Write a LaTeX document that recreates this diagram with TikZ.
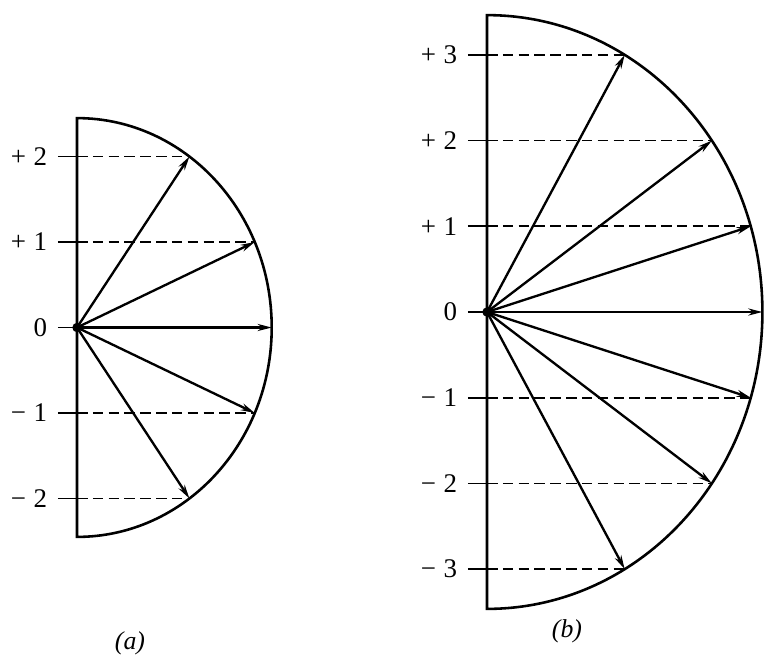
\documentclass[tikz,border=0pt]{standalone}
\usepackage{fontspec}
\setmainfont{Liberation Serif}
\usetikzlibrary{arrows.meta}
\begin{document}
\begin{tikzpicture}[x=0.03cm,y=-0.03cm,>={Stealth[length=12pt,width=6pt]},
  rim/.style={line width=2.2pt},
  vec/.style={->,line width=2pt},
  proj/.style={line width=1.5pt,dash pattern=on 9pt off 4.5pt},
  tickmark/.style={line width=1.5pt},
  lbl/.style={left=9pt,inner sep=0pt,font=\fontsize{23}{26}\selectfont},
  captext/.style={font=\fontsize{22}{26}\selectfont\itshape}]
\useasboundingbox (0,0) rectangle (765,658);

% (a) l = 2
\begin{scope}[shift={(77,327.5)},x=2.385cm,y=2.565cm]
\coordinate (oa) at (0,0);
\draw[rim] (0,2.449) arc[start angle=90,end angle=-90,radius=2.449] -- cycle;
\foreach \m/\t in {2/{+\;2},1/{+\;1},0/0,-1/{−\;1},-2/{−\;2}}{
  \pgfmathsetmacro\w{sqrt(6-\m*\m)}
  \coordinate (a\m) at (\w,\m);
  \coordinate (za\m) at (0,\m);
  \draw[tickmark] (-0.24,\m) -- (za\m);
  \node[lbl] (la\m) at (-0.24,\m) {\t};
  \ifnum\m=0\else\draw[proj] (za\m) -- (a\m);\fi
  \draw[vec] (oa) -- (a\m);
}
\fill (oa) circle (4pt);
\end{scope}

% (b) l = 3
\begin{scope}[shift={(487,312)},x=2.385cm,y=2.571cm]
\coordinate (ob) at (0,0);
\draw[rim] (0,3.464) arc[start angle=90,end angle=-90,radius=3.464] -- cycle;
\foreach \m/\t in {3/{+\;3},2/{+\;2},1/{+\;1},0/0,-1/{−\;1},-2/{−\;2},-3/{−\;3}}{
  \pgfmathsetmacro\w{sqrt(12-\m*\m)}
  \coordinate (b\m) at (\w,\m);
  \coordinate (zb\m) at (0,\m);
  \draw[tickmark] (-0.24,\m) -- (zb\m);
  \node[lbl] (lb\m) at (-0.24,\m) {\t};
  \ifnum\m=0\else\draw[proj] (zb\m) -- (b\m);\fi
  \draw[vec] (ob) -- (b\m);
}
\fill (ob) circle (4pt);
\end{scope}

\node[captext] (capa) at (130,643) {(a)};
\node[captext] (capb) at (567,631) {(b)};
\end{tikzpicture}
\end{document}
